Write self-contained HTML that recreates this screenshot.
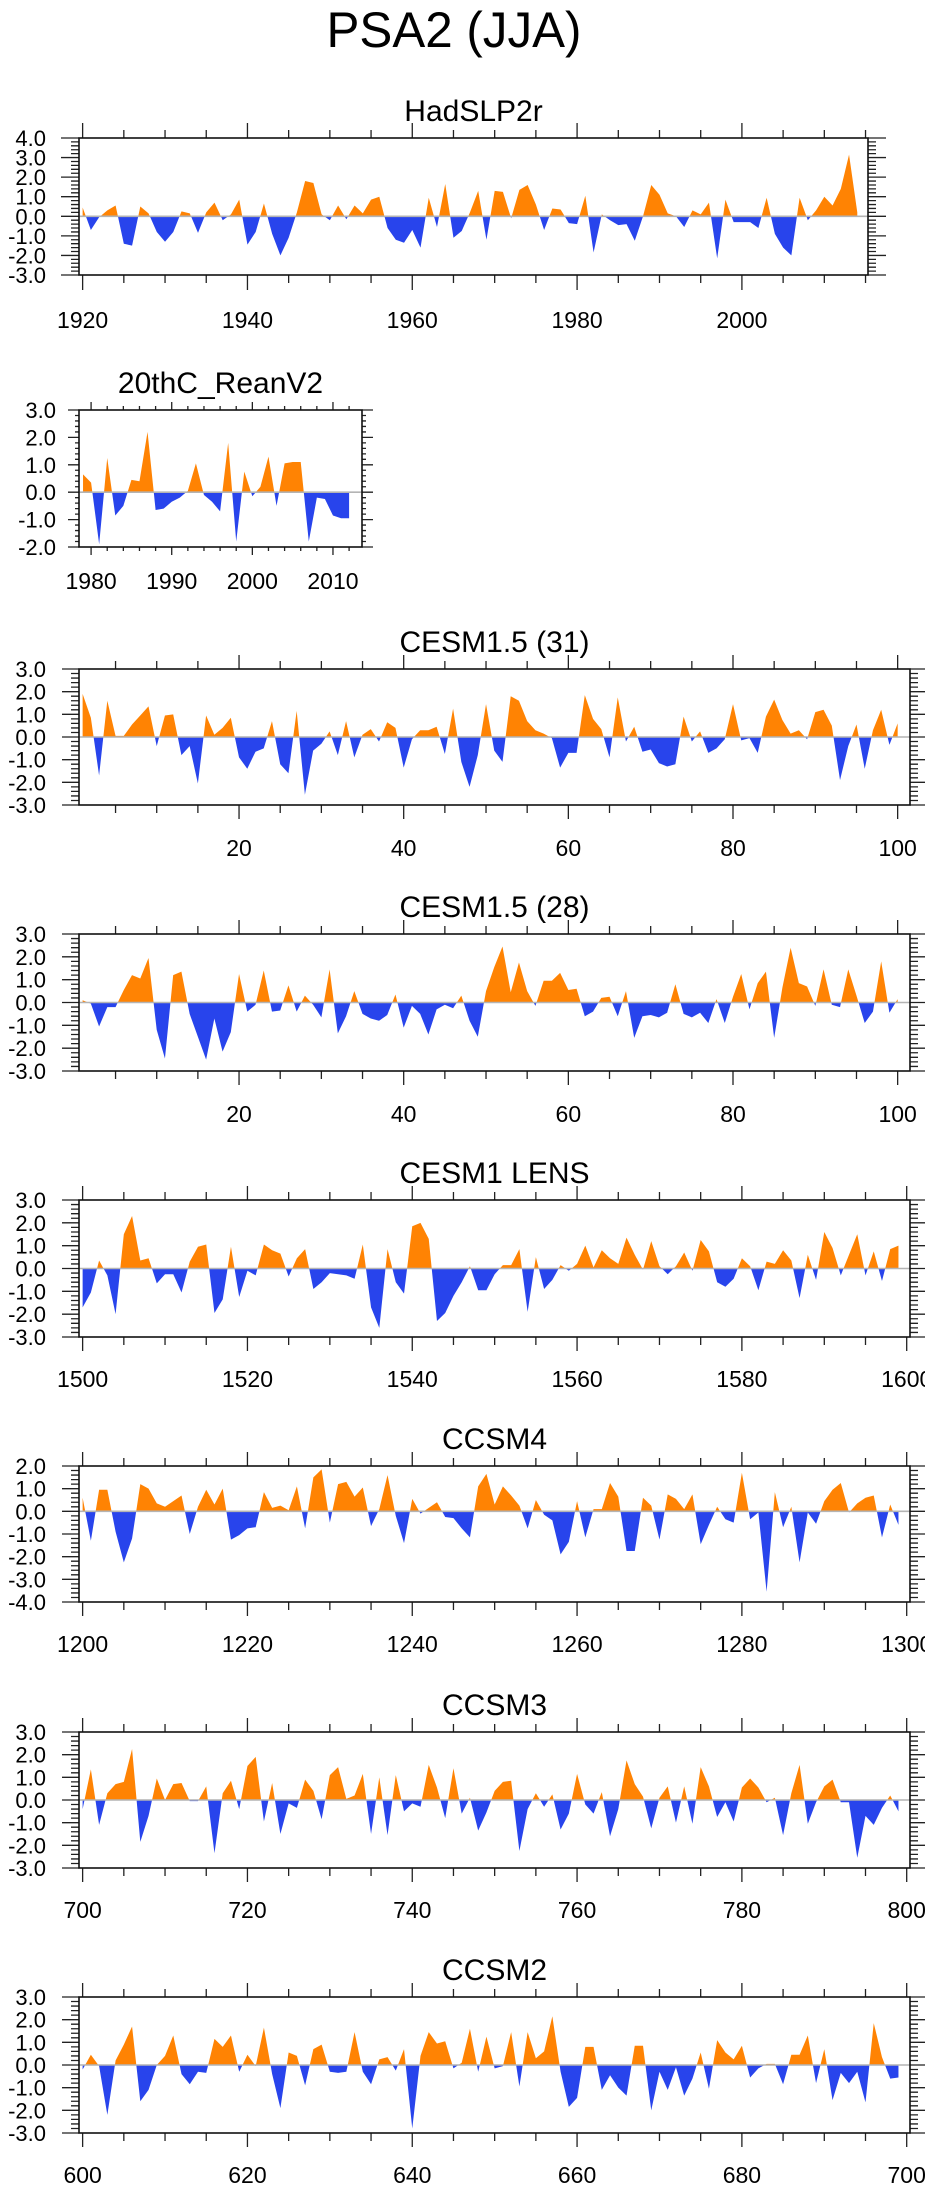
<!DOCTYPE html>
<html><head><meta charset="utf-8"><title>PSA2 (JJA)</title>
<style>html,body{margin:0;padding:0;background:#fff}svg{display:block}text{font-family:"Liberation Sans",sans-serif;fill:#000}</style>
</head><body>
<svg id="fig" xmlns="http://www.w3.org/2000/svg" width="925" height="2191" viewBox="0 0 925 2191">
<rect x="0" y="0" width="925" height="2191" fill="#fff"/>
<text x="454" y="47" font-size="50" text-anchor="middle" textLength="255" lengthAdjust="spacingAndGlyphs">PSA2 (JJA)</text>
</svg>
<script>
const hadslp2r = [0.45,-0.7,-0.05,0.3,0.55,-1.4,-1.5,0.5,0.15,-0.8,-1.3,-0.8,0.25,0.15,-0.85,0.2,0.7,-0.2,0.1,0.85,-1.45,-0.8,0.65,-0.9,-2.0,-1.1,0.2,1.8,1.7,0.1,-0.2,0.55,-0.15,0.55,0.15,0.85,1.0,-0.6,-1.2,-1.35,-0.7,-1.6,0.95,-0.55,1.65,-1.1,-0.75,0.2,1.3,-1.2,1.3,1.25,-0.1,1.35,1.6,0.6,-0.7,0.4,0.35,-0.35,-0.4,1.05,-1.85,0.1,-0.2,-0.45,-0.4,-1.25,0.0,1.6,1.1,0.15,0.0,-0.55,0.3,0.1,0.7,-2.15,0.85,-0.3,-0.3,-0.3,-0.6,0.95,-0.9,-1.6,-2.0,0.95,-0.2,0.3,1.0,0.55,1.4,3.15,0.2];
const rean20c = [0.65,0.35,-1.9,1.25,-0.85,-0.5,0.45,0.4,2.2,-0.65,-0.6,-0.35,-0.2,0.05,1.05,-0.1,-0.35,-0.7,1.8,-1.8,0.75,-0.15,0.2,1.3,-0.5,1.05,1.1,1.1,-1.8,-0.2,-0.25,-0.85,-0.95,-0.95];
const cesm15_31 = [1.9,0.85,-1.7,1.6,0.05,0.05,0.55,0.95,1.35,-0.4,0.95,1.0,-0.8,-0.4,-2.05,0.95,0.1,0.4,0.85,-0.9,-1.4,-0.65,-0.5,0.7,-1.2,-1.6,1.15,-2.55,-0.6,-0.3,0.25,-0.8,0.7,-0.9,0.1,0.35,-0.2,0.65,0.4,-1.35,-0.1,0.3,0.3,0.45,-0.75,1.25,-1.1,-2.2,-0.8,1.45,-0.6,-1.1,1.8,1.6,0.7,0.3,0.15,-0.05,-1.35,-0.7,-0.7,1.85,0.8,0.35,-0.9,1.75,-0.2,0.45,-0.65,-0.55,-1.15,-1.3,-1.2,0.9,-0.2,0.25,-0.7,-0.5,-0.1,1.45,-0.15,-0.05,-0.7,0.9,1.65,0.75,0.15,0.3,-0.1,1.1,1.2,0.5,-1.9,-0.4,0.55,-1.4,0.3,1.2,-0.35,0.6];
const cesm15_28 = [0.1,-0.05,-1.05,-0.2,-0.2,0.55,1.2,1.05,1.95,-1.2,-2.45,1.2,1.35,-0.5,-1.5,-2.5,-0.7,-2.15,-1.3,1.25,-0.4,-0.1,1.4,-0.4,-0.35,0.75,-0.4,0.3,-0.1,-0.65,1.45,-1.35,-0.6,0.5,-0.5,-0.7,-0.8,-0.55,0.35,-1.1,-0.15,-0.5,-1.4,-0.3,-0.1,-0.25,0.3,-0.8,-1.5,0.5,1.55,2.45,0.45,1.75,0.5,-0.15,0.95,0.95,1.3,0.55,0.6,-0.6,-0.4,0.2,0.25,-0.6,0.5,-1.55,-0.6,-0.55,-0.65,-0.45,0.8,-0.5,-0.65,-0.45,-0.9,0.15,-0.9,0.25,1.25,-0.3,0.85,1.35,-1.55,0.65,2.4,0.85,0.7,-0.15,1.45,-0.1,-0.2,1.45,0.3,-0.9,-0.4,1.8,-0.45,0.15];
const cesm1lens = [-1.7,-1.05,0.35,-0.3,-2.0,1.5,2.3,0.35,0.45,-0.65,-0.25,-0.25,-1.05,0.3,0.95,1.05,-1.95,-1.35,0.95,-1.25,-0.1,-0.3,1.05,0.8,0.65,-0.35,0.45,0.85,-0.9,-0.6,-0.2,-0.25,-0.3,-0.45,1.05,-1.7,-2.6,0.85,-0.6,-1.1,1.85,2.0,1.3,-2.3,-1.95,-1.2,-0.6,0.1,-0.95,-0.95,-0.25,0.15,0.15,0.85,-1.9,0.5,-0.9,-0.5,0.15,-0.1,0.2,1.0,0.05,0.8,0.45,0.2,1.35,0.6,-0.05,1.2,0.1,-0.25,0.1,0.7,-0.1,1.25,0.75,-0.6,-0.8,-0.45,0.45,0.1,-0.95,0.3,0.2,0.8,0.35,-1.3,0.6,-0.5,1.6,0.9,-0.3,0.6,1.5,-0.3,0.75,-0.55,0.85,1.0];
const ccsm4 = [0.6,-1.3,0.95,0.95,-0.9,-2.25,-1.2,1.2,1.0,0.35,0.2,0.45,0.7,-1.0,0.2,0.95,0.3,1.0,-1.25,-1.05,-0.75,-0.7,0.85,0.15,0.25,0.05,1.1,-0.75,1.5,1.85,-0.5,1.2,1.3,0.65,1.05,-0.65,0.1,1.6,-0.2,-1.4,0.55,-0.1,0.15,0.4,-0.25,-0.3,-0.75,-1.15,1.1,1.65,0.3,1.1,0.7,0.25,-0.75,0.5,-0.15,-0.4,-1.9,-1.35,0.45,-1.15,0.1,0.1,1.25,0.65,-1.75,-1.75,0.6,0.25,-1.25,0.75,0.55,0.1,0.75,-1.45,-0.6,0.2,-0.35,-0.5,1.7,-0.35,-0.05,-3.55,0.85,-0.7,0.2,-2.25,-0.05,-0.55,0.45,0.95,1.25,-0.05,0.35,0.6,0.7,-1.15,0.3,-0.6];
const ccsm3 = [-0.4,1.35,-1.1,0.3,0.7,0.8,2.25,-1.85,-0.7,0.95,0.0,0.7,0.75,-0.05,-0.05,0.6,-2.35,0.3,0.85,-0.4,1.5,1.9,-0.95,0.75,-1.5,-0.15,-0.35,0.9,0.4,-0.85,1.1,1.45,0.05,0.2,1.15,-1.5,1.0,-1.55,1.1,-0.5,-0.15,-0.3,1.55,0.55,-0.8,1.4,-0.6,0.1,-1.35,-0.55,0.4,0.8,0.85,-2.25,-0.4,0.3,-0.3,0.25,-1.3,-0.6,1.15,-0.2,-0.6,0.35,-1.6,-0.4,1.75,0.7,0.15,-1.25,0.1,0.6,-1.0,0.6,-1.05,1.45,0.6,-0.75,-0.1,-0.95,0.55,0.95,0.55,-0.1,0.1,-1.55,0.3,1.55,-1.05,-0.1,0.6,0.9,-0.1,-0.1,-2.55,-0.7,-1.1,-0.35,0.2,-0.5];
const ccsm2 = [-0.2,0.45,-0.05,-2.2,0.2,0.9,1.7,-1.6,-1.1,0.0,0.4,1.3,-0.4,-0.85,-0.3,-0.35,1.15,0.8,1.3,-0.3,0.45,-0.05,1.65,-0.4,-1.9,0.55,0.4,-0.9,0.7,0.9,-0.3,-0.35,-0.3,1.45,-0.3,-0.85,0.25,0.35,-0.25,0.7,-2.8,0.4,1.45,0.95,1.05,-0.15,0.1,1.6,-0.3,1.25,-0.15,-0.05,1.45,-0.95,1.45,0.3,0.6,2.15,-0.3,-1.85,-1.45,0.8,0.8,-1.1,-0.45,-1.0,-1.35,0.85,0.85,-2.0,-0.3,-1.1,-0.1,-1.35,-0.6,0.55,-1.05,1.1,0.55,0.25,0.85,-0.55,-0.15,0.05,0.05,-0.85,0.45,0.45,1.3,-0.8,0.7,-1.55,-0.35,-0.8,-0.3,-1.65,1.85,0.35,-0.6,-0.55];

const startX = [1920, 1979, 1, 1, 1500, 1200, 700, 600];
const titles = ["HadSLP2r","20thC_ReanV2","CESM1.5 (31)","CESM1.5 (28)","CESM1 LENS","CCSM4","CCSM3","CCSM2"];
const yMins = [-3,-2,-3,-3,-3,-4,-3,-3];
const yMaxs = [4,3,3,3,3,2,3,3];
const xLabelVals = [[1920,1940,1960,1980,2000],[1980,1990,2000,2010],[20,40,60,80,100],[20,40,60,80,100],[1500,1520,1540,1560,1580,1600],[1200,1220,1240,1260,1280,1300],[700,720,740,760,780,800],[600,620,640,660,680,700]];
const series = [hadslp2r, rean20c, cesm15_31, cesm15_28, cesm1lens, ccsm4, ccsm3, ccsm2];

const NS = "http://www.w3.org/2000/svg";
const svg = document.getElementById("fig");
const layouts = [
  {slug:"hadslp2r", left:79, right:868, top:138, bottom:275, xmin:1919.56, xmax:2015.3, major:20, minor:5, tMaj:15, tMin:8, ylabX:46, xlabDy:53},
  {slug:"20thc-reanv2", left:79, right:362, top:410, bottom:547, xmin:1978.5, xmax:2013.6, major:10, minor:2, tMaj:8, tMin:4, ylabX:56, xlabDy:42},
  {slug:"cesm15-31", left:79, right:910, top:669, bottom:805, xmin:0.56, xmax:101.5, major:20, minor:5, tMaj:14, tMin:8, ylabX:46, xlabDy:51},
  {slug:"cesm15-28", left:79, right:910, top:934, bottom:1071, xmin:0.56, xmax:101.5, major:20, minor:5, tMaj:14, tMin:8, ylabX:46, xlabDy:51},
  {slug:"cesm1-lens", left:79, right:910, top:1200, bottom:1337, xmin:1499.56, xmax:1600.4, major:20, minor:5, tMaj:14, tMin:8, ylabX:46, xlabDy:50},
  {slug:"ccsm4", left:79, right:910, top:1466, bottom:1602, xmin:1199.56, xmax:1300.4, major:20, minor:5, tMaj:14, tMin:8, ylabX:46, xlabDy:50},
  {slug:"ccsm3", left:79, right:910, top:1732, bottom:1868, xmin:699.56, xmax:800.4, major:20, minor:5, tMaj:14, tMin:8, ylabX:46, xlabDy:50},
  {slug:"ccsm2", left:79, right:910, top:1997, bottom:2133, xmin:599.56, xmax:700.4, major:20, minor:5, tMaj:14, tMin:8, ylabX:46, xlabDy:50}
];

function mk(tag, attrs, parent){
  const e = document.createElementNS(NS, tag);
  for (const k in attrs) e.setAttribute(k, attrs[k]);
  parent.appendChild(e);
  return e;
}

layouts.forEach(function(L, p){
  const vals = series[p];
  const ymin = yMins[p], ymax = yMaxs[p];
  const sx = v => L.left + (v - L.xmin) / (L.xmax - L.xmin) * (L.right - L.left);
  const sy = v => L.bottom - (v - ymin) / (ymax - ymin) * (L.bottom - L.top);
  const g = mk("g", {}, svg);
  
  

  const t = mk("text", {x:(L.left+L.right)/2, y:L.top-17, "font-size":30, "text-anchor":"middle"}, g);
  t.textContent = titles[p];
  
  

  const y0 = sy(0);
  let pts = [sx(startX[p]).toFixed(2) + "," + y0.toFixed(2)];
  vals.forEach(function(v, i){ pts.push(sx(startX[p]+i).toFixed(2) + "," + sy(v).toFixed(2)); });
  pts.push(sx(startX[p]+vals.length-1).toFixed(2) + "," + y0.toFixed(2));
  const defs = mk("defs", {}, g);
  const cpA = mk("clipPath", {id:"ca"+p}, defs);
  mk("rect", {x:L.left, y:L.top, width:L.right-L.left, height:y0-L.top}, cpA);
  const cpB = mk("clipPath", {id:"cb"+p}, defs);
  mk("rect", {x:L.left, y:y0, width:L.right-L.left, height:L.bottom-y0}, cpB);
  const pos = mk("polygon", {points:pts.join(" "), fill:"#ff8303", "clip-path":"url(#ca"+p+")"}, g);
  
  
  const neg = mk("polygon", {points:pts.join(" "), fill:"#2844ec", "clip-path":"url(#cb"+p+")"}, g);
  
  
  const zl = mk("line", {x1:L.left, x2:L.right, y1:y0, y2:y0, stroke:"#b4b4b4", "stroke-width":1.6}, g);
  
  

  let d = "";
  for (let v = Math.ceil(L.xmin / L.minor) * L.minor; v <= L.xmax; v += L.minor){
    const isMaj = (v % L.major) === 0;
    const len = isMaj ? L.tMaj : L.tMin;
    const x = sx(v).toFixed(2);
    d += "M" + x + "," + L.bottom + "v" + len + "M" + x + "," + L.top + "v" + (-len);
  }
  for (let k = 0; k <= (ymax - ymin) * 5; k++){
    const v = ymin + k * 0.2;
    const isMaj = k % 5 === 0;
    const len = isMaj ? L.tMaj + 3 : L.tMin;
    const y = sy(v).toFixed(2);
    d += "M" + L.left + "," + y + "h" + (-len) + "M" + L.right + "," + y + "h" + len;
  }
  const ticks = mk("path", {d:d, stroke:"#222", "stroke-width":1.3, fill:"none"}, g);
  
  

  const box = mk("rect", {x:L.left, y:L.top, width:L.right-L.left, height:L.bottom-L.top, fill:"none", stroke:"#111", "stroke-width":1.6}, g);
  
  

  for (let v = ymin; v <= ymax; v++){
    const yl = mk("text", {x:L.ylabX, y:sy(v)+8, "font-size":22, "text-anchor":"end"}, g);
    yl.textContent = v.toFixed(1);
    
    
  }
  xLabelVals[p].forEach(function(v){
    const xl = mk("text", {x:sx(v), y:L.bottom+L.xlabDy, "font-size":23, "text-anchor":"middle"}, g);
    xl.textContent = String(v);
    
    
  });
});
</script>
</body></html>
